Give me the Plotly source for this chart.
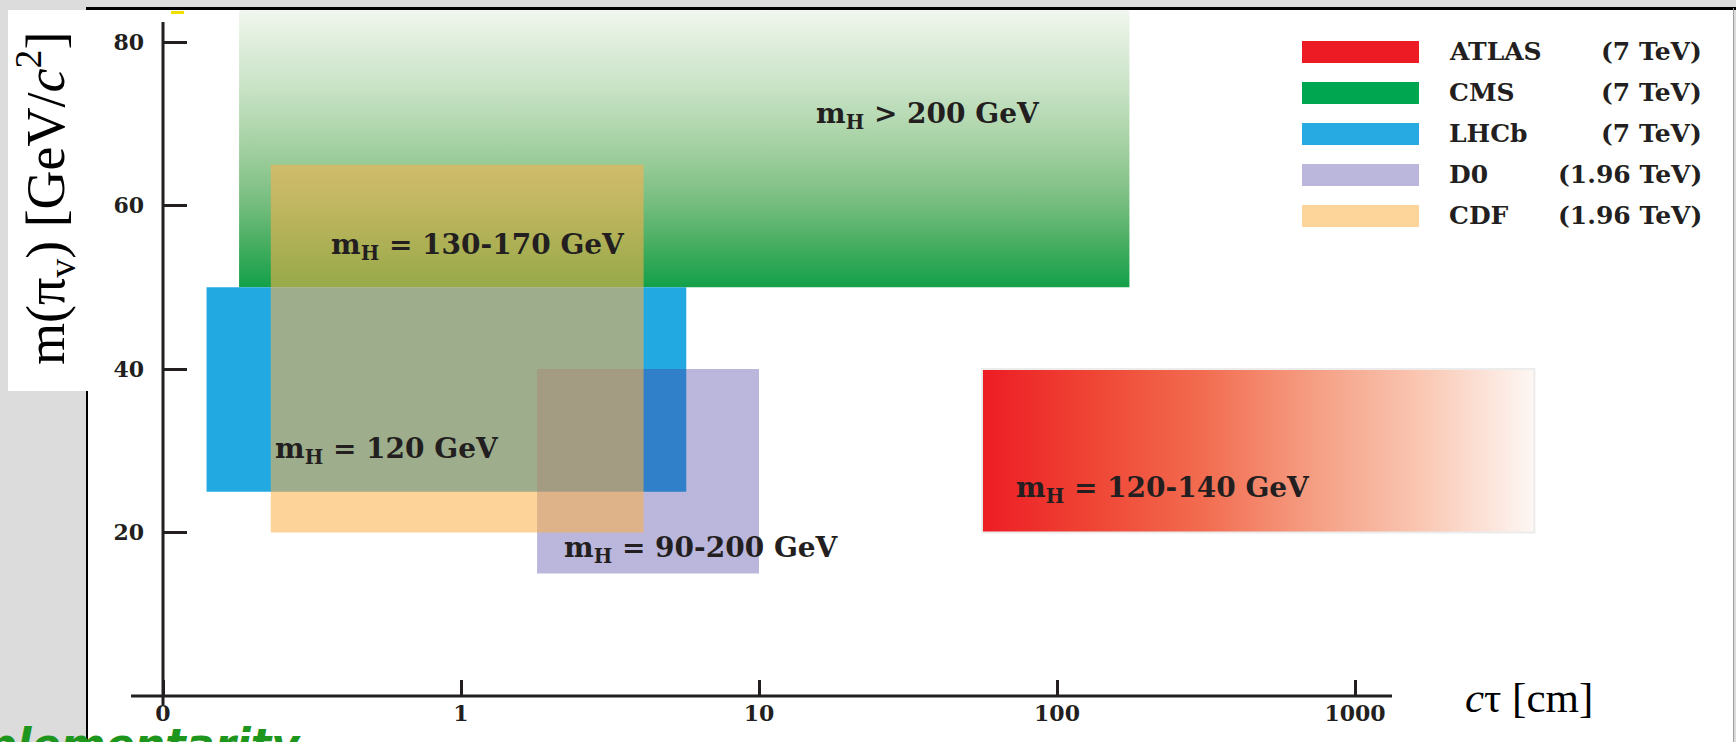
import numpy as np
import plotly.graph_objects as go

# ---------------- data ----------------
experiments = ["ATLAS", "CMS", "LHCb", "D0", "CDF"]
energies = ["(7 TeV)", "(7 TeV)", "(7 TeV)", "(1.96 TeV)", "(1.96 TeV)"]
ctau_min = [56.0, 0.18, 0.14, 1.8, 0.23]      # cm
ctau_max = [4000.0, 175.0, 5.7, 10.0, 4.1]    # cm
mass_min = [20, 50, 25, 15, 20]               # GeV/c^2
mass_max = [40, 85, 50, 40, 65]               # GeV/c^2
higgs_text = ["m<sub>H</sub> = 120-140 GeV", "m<sub>H</sub> &gt; 200 GeV",
              "m<sub>H</sub> = 120 GeV", "m<sub>H</sub> = 90-200 GeV",
              "m<sub>H</sub> = 130-170 GeV"]
text_ctau = [72.0, 15.3, 0.234, 2.18, 0.36]
text_mass = [25.2, 71.0, 30.0, 17.9, 55.0]
x_tick_values = [0, 1, 10, 100, 1000]
x_tick_labels = ["0", "1", "10", "100", "1000"]
y_tick_values = [20, 40, 60, 80]
y_tick_labels = ["20", "40", "60", "80"]

# ---------------- styles ----------------
swatch = {"ATLAS": "#ed1c24", "CMS": "#00a650", "LHCb": "#27aae1",
          "D0": "#bbb6dc", "CDF": "#fdd49a"}
fills = {"LHCb": "#23a9e1", "D0": "rgba(69,58,160,0.37)", "CDF": "rgba(251,178,76,0.57)"}
draw_order = ["CMS", "LHCb", "D0", "CDF", "ATLAS"]
INK = "#231f20"
SERIF_B = dict(family="DejaVu Serif", color=INK, weight="bold")

W, H = 1736, 742
L, R, T, B = 87, 1733, 10, 742
X0PX, XSTEP = 163, 298     # pixel of ct=0 and pixels per decade
Y0PX, YSTEP = 696, 8.175   # pixel of m=0 and pixels per GeV


def xpos(ct):
    ct = np.asarray(ct, dtype=float)
    return np.where(ct > 0, np.log10(np.where(ct > 0, ct, 1)) + 1, 0.0)


def pxx(px):
    return (px - L) / (R - L)


def pxy(py):
    return (B - py) / (B - T)


fig = go.Figure()

for name in draw_order:
    i = experiments.index(name)
    x0, x1 = xpos([ctau_min[i], ctau_max[i]])
    y0, y1 = mass_min[i], mass_max[i]
    xs = [x0, x1, x1, x0, x0]
    ys = [y0, y0, y1, y1, y0]
    kw = dict(x=xs, y=ys, mode="lines", fill="toself", hoverinfo="skip",
              showlegend=False, name=name, line=dict(width=0))
    if name == "CMS":
        kw["fillgradient"] = dict(
            type="vertical", start=y0, stop=84,
            colorscale=[[0.0, "#13a049"], [0.15, "#45ad60"], [0.3, "#75bd7e"],
                        [0.45, "#98cb98"], [0.6, "#b5d9b2"], [0.75, "#cde5ca"],
                        [0.9, "#e2efdf"], [1.0, "#f2f7f1"]])
    elif name == "ATLAS":
        kw["fillgradient"] = dict(
            type="horizontal", start=x0, stop=x1,
            colorscale=[[0.0, "#ed1c24"], [0.2, "#ef4535"], [0.4, "#f26c50"],
                        [0.6, "#f59e83"], [0.8, "#fac8b4"], [1.0, "#fdf7f4"]])
        kw["line"] = dict(width=2, color="#ececec")
    else:
        kw["fillcolor"] = fills[name]
    fig.add_trace(go.Scatter(**kw))

annotations = []
for i, t in enumerate(higgs_text):
    annotations.append(dict(x=float(xpos(text_ctau[i])), y=text_mass[i], xref="x", yref="y",
                            text=t, showarrow=False, xanchor="left", yanchor="middle",
                            font=dict(size=28, **SERIF_B)))

shapes = []
# slide frame
shapes.append(dict(type="line", xref="paper", yref="paper", x0=pxx(86), x1=pxx(1736),
                   y0=pxy(8.5), y1=pxy(8.5), line=dict(color="#000000", width=3)))
shapes.append(dict(type="line", xref="paper", yref="paper", x0=pxx(87), x1=pxx(87),
                   y0=pxy(8), y1=pxy(742), line=dict(color="#000000", width=2)))
shapes.append(dict(type="line", xref="paper", yref="paper", x0=pxx(1733.5), x1=pxx(1733.5),
                   y0=pxy(8), y1=pxy(742), line=dict(color="#a0a0a0", width=1)))
# white box behind y title
shapes.append(dict(type="rect", xref="paper", yref="paper", x0=pxx(8), x1=pxx(89),
                   y0=pxy(391), y1=pxy(10), fillcolor="white", line=dict(width=0)))
# small yellow mark
shapes.append(dict(type="rect", xref="paper", yref="paper", x0=pxx(171), x1=pxx(184),
                   y0=pxy(14), y1=pxy(11), fillcolor="#f2e000", line=dict(width=0)))
# axis lines
shapes.append(dict(type="line", xref="paper", yref="y", x0=pxx(131), x1=pxx(1392),
                   y0=0, y1=0, line=dict(color=INK, width=3)))
shapes.append(dict(type="line", xref="x", yref="paper", x0=0, x1=0,
                   y0=pxy(705), y1=pxy(22), line=dict(color=INK, width=3)))

# legend
row_y = [52, 93, 134, 175, 216]
for i, name in enumerate(experiments):
    shapes.append(dict(type="rect", xref="paper", yref="paper", x0=pxx(1302), x1=pxx(1419),
                       y0=pxy(row_y[i] + 11), y1=pxy(row_y[i] - 11),
                       fillcolor=swatch[name], line=dict(width=0)))
    annotations.append(dict(x=pxx(1447), y=pxy(row_y[i]), xref="paper", yref="paper",
                            text=name, showarrow=False, xanchor="left", yanchor="middle",
                            font=dict(size=25, **SERIF_B)))
    annotations.append(dict(x=pxx(1704), y=pxy(row_y[i]), xref="paper", yref="paper",
                            text=energies[i], showarrow=False, xanchor="right", yanchor="middle",
                            font=dict(size=25, **SERIF_B)))

# axis titles
annotations.append(dict(x=pxx(45), y=pxy(199), xref="paper", yref="paper",
                        text="m(π<sub>v</sub>) [GeV/<i>c</i><sup>2</sup>]", textangle=-90,
                        showarrow=False, xanchor="center", yanchor="middle",
                        font=dict(family="Liberation Serif", size=54, color="#000000")))
annotations.append(dict(x=pxx(1529), y=pxy(697), xref="paper", yref="paper",
                        text="<i>c</i>τ [cm]", showarrow=False, xanchor="center", yanchor="middle",
                        font=dict(family="Liberation Serif", size=43, color="#000000")))
# slide text cut at bottom
annotations.append(dict(x=pxx(303), y=pxy(717), xref="paper", yref="paper",
                        text="<i>Complementarity</i>", showarrow=False, xanchor="right",
                        yanchor="top",
                        font=dict(family="DejaVu Sans", size=43, color="#1e961e", weight="bold")))

fig.update_layout(
    width=W, height=H,
    margin=dict(l=L, r=W - R, t=T, b=H - B, pad=0),
    paper_bgcolor="#dcdcdc", plot_bgcolor="white",
    hovermode=False, showlegend=False,
    shapes=shapes, annotations=annotations,
    xaxis=dict(range=[(L - X0PX) / XSTEP, (R - X0PX) / XSTEP], showgrid=False, zeroline=False,
               showline=False, anchor="free", position=pxy(Y0PX), ticks="inside",
               ticklen=16, tickwidth=2.5, tickcolor=INK,
               tickvals=[float(v) for v in xpos(x_tick_values)], ticktext=x_tick_labels,
               tickfont=dict(size=22, **SERIF_B), ticklabelstandoff=2),
    yaxis=dict(range=[(Y0PX - B) / YSTEP, (Y0PX - T) / YSTEP], showgrid=False, zeroline=False,
               showline=False, anchor="free", position=pxx(X0PX), ticks="inside",
               ticklen=23, tickwidth=3, tickcolor=INK,
               tickvals=y_tick_values, ticktext=y_tick_labels,
               tickfont=dict(size=22, **SERIF_B), ticklabelstandoff=19),
)

fig.write_html("out.html", config={"displayModeBar": False},
               post_script="document.body.style.margin='0';document.body.style.overflow='hidden';")
